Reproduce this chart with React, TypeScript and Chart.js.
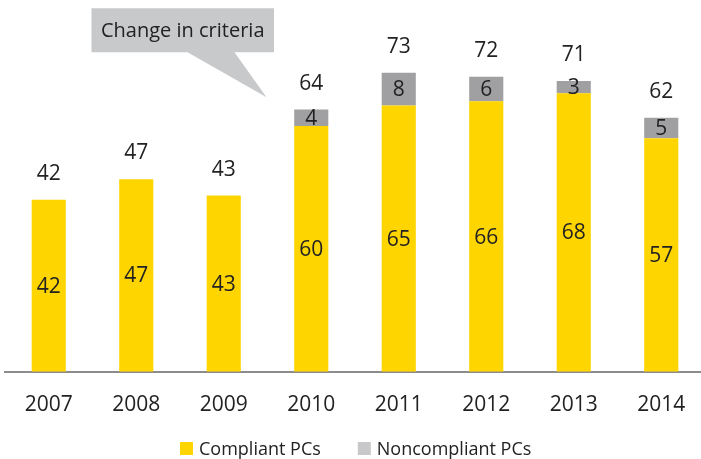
import React, { useEffect, useRef } from "react";
import { Chart, registerables } from "chart.js";

Chart.register(...registerables);

const years = ["2007", "2008", "2009", "2010", "2011", "2012", "2013", "2014"];
const compliant = [42, 47, 43, 60, 65, 66, 68, 57];
const noncompliant = [null, null, null, 4, 8, 6, 3, 5];
const seriesNames = ["Compliant PCs", "Noncompliant PCs"];
const calloutText = "Change in criteria";

const FONT = "'Open Sans', 'Noto Sans', sans-serif";
const YELLOW = "#FFD500";
const GRAY = "#A0A0A2";
const LEGEND_GRAY = "#C8C8CA";
const CALLOUT_GRAY = "#C8C9CB";
const TEXT = "#222222";

const labelsPlugin = {
  id: "barLabels",
  afterDatasetsDraw(chart: any) {
    const ctx = chart.ctx;
    const m0 = chart.getDatasetMeta(0);
    const m1 = chart.getDatasetMeta(1);
    const yScale = chart.scales.y;
    ctx.save();
    ctx.fillStyle = TEXT;
    ctx.textAlign = "center";
    ctx.textBaseline = "middle";
    ctx.font = `21px ${FONT}`;
    years.forEach((_, i) => {
      const e0 = m0.data[i];
      ctx.fillText(String(compliant[i]), e0.x, (e0.y + e0.base) / 2 + 1);
      const nc = noncompliant[i];
      if (nc != null) {
        const e1 = m1.data[i];
        ctx.fillText(String(nc), e1.x, (e1.y + e1.base) / 2 + 1);
      }
      const total = compliant[i] + (nc || 0);
      const top = yScale.getPixelForValue(total);
      ctx.fillText(String(total), e0.x, top - 26);
    });
    ctx.restore();
  },
  afterDraw(chart: any) {
    const ctx = chart.ctx;
    const xScale = chart.scales.x;
    const yScale = chart.scales.y;
    // callout pointing at the 2010 change
    const tipX = xScale.getPixelForValue(2.5) - 1;
    const tipY = yScale.getPixelForValue(67);
    const bx0 = tipX - 175;
    const bx1 = tipX + 7.5;
    const by0 = 8.3;
    const by1 = 52.3;
    ctx.save();
    ctx.fillStyle = CALLOUT_GRAY;
    ctx.beginPath();
    ctx.moveTo(bx0, by0);
    ctx.lineTo(bx1, by0);
    ctx.lineTo(bx1, by1);
    ctx.lineTo(tipX - 32, by1);
    ctx.lineTo(tipX, tipY);
    ctx.lineTo(tipX - 79, by1);
    ctx.lineTo(bx0, by1);
    ctx.closePath();
    ctx.fill();
    ctx.fillStyle = TEXT;
    ctx.font = `20px ${FONT}`;
    ctx.textAlign = "center";
    ctx.textBaseline = "middle";
    ctx.fillText(calloutText, (bx0 + bx1) / 2, (by0 + by1) / 2 + 1);

    // legend
    ctx.font = `18px ${FONT}`;
    ctx.textAlign = "left";
    const colors = [YELLOW, LEGEND_GRAY];
    let x = 180;
    const cy = 448.5;
    seriesNames.forEach((name, i) => {
      ctx.fillStyle = colors[i];
      ctx.fillRect(x, cy - 6.5, 13, 13);
      x += 19;
      ctx.fillStyle = TEXT;
      ctx.fillText(name, x, cy + 1);
      x += ctx.measureText(name).width + 37;
    });
    ctx.restore();
  },
};

export default function App() {
  const ref = useRef<HTMLCanvasElement>(null);
  useEffect(() => {
    if (!ref.current) return;
    const chart = new Chart(ref.current, {
      type: "bar",
      data: {
        labels: years,
        datasets: [
          { label: seriesNames[0], data: compliant, backgroundColor: YELLOW, stack: "s" },
          { label: seriesNames[1], data: noncompliant as any, backgroundColor: GRAY, stack: "s" },
        ],
      },
      options: {
        animation: false,
        responsive: false,
        maintainAspectRatio: false,
        layout: { padding: { left: 5, right: 5, top: 44, bottom: 20 } },
        datasets: { bar: { barPercentage: 0.39, categoryPercentage: 1 } },
        plugins: { legend: { display: false }, tooltip: { enabled: false } },
        scales: {
          x: {
            stacked: true,
            grid: { display: false, drawTicks: false },
            border: { display: true, color: "#8c8c8c", width: 2 },
            ticks: { font: { family: FONT, size: 21 }, color: TEXT, padding: 21 },
          },
          y: { stacked: true, display: false, min: 0, max: 80 },
        },
      },
      plugins: [labelsPlugin],
    });
    return () => chart.destroy();
  }, []);
  return (
    <div
      style={{
        position: "fixed",
        left: 0,
        top: 0,
        width: 701,
        height: 459,
        overflow: "hidden",
        background: "#fff",
      }}
    >
      <canvas ref={ref} width={710} height={459} style={{ width: 710, height: 459, display: "block" }} />
    </div>
  );
}
